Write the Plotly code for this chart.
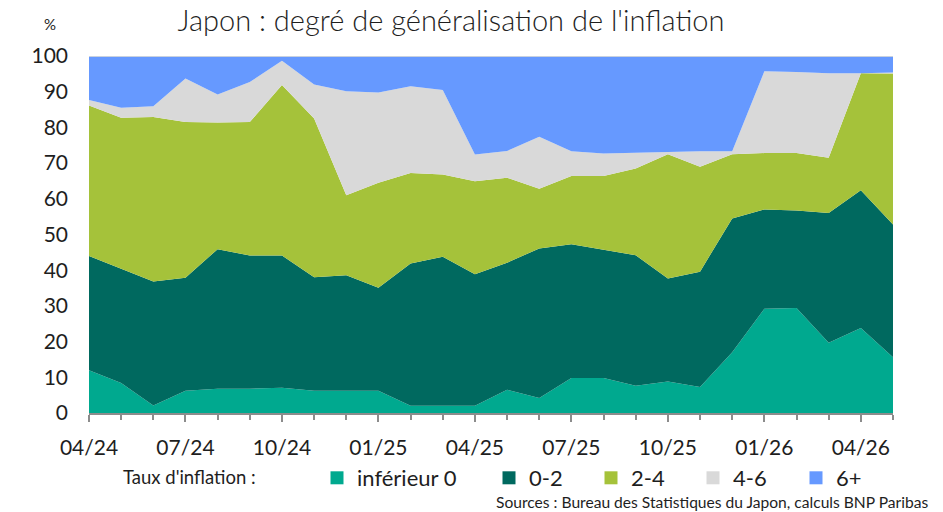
import plotly.graph_objects as go

months = ["04/24", "05/24", "06/24", "07/24", "08/24", "09/24", "10/24", "11/24", "12/24",
          "01/25", "02/25", "03/25", "04/25", "05/25", "06/25", "07/25", "08/25", "09/25",
          "10/25", "11/25", "12/25", "01/26", "02/26", "03/26", "04/26", "05/26"]

inf0 = [12.0, 8.4, 2.1, 6.2, 6.8, 6.8, 7.1, 6.2, 6.2, 6.2, 2.0, 2.0, 2.0, 6.5, 4.2, 9.8,
        9.8, 7.6, 8.8, 7.3, 17.0, 29.2, 29.4, 19.7, 23.8, 15.6]
r0_2 = [32.0, 32.1, 34.7, 31.7, 39.1, 37.3, 37.0, 31.8, 32.4, 28.9, 39.9, 41.8, 36.9, 35.6,
        41.9, 37.5, 36.0, 36.6, 28.9, 32.3, 37.5, 27.8, 27.3, 36.3, 38.6, 37.2]
r2_4 = [42.1, 42.2, 46.1, 43.6, 35.5, 37.4, 47.8, 44.5, 22.4, 29.4, 25.3, 23.0, 26.0, 23.8,
        16.7, 19.1, 20.6, 24.3, 34.8, 29.4, 18.0, 15.8, 16.1, 15.5, 32.8, 42.3]
r4_6 = [1.6, 2.8, 3.0, 12.2, 7.8, 11.2, 6.8, 9.5, 29.1, 25.3, 24.3, 23.7, 7.5, 7.5, 14.6,
        6.9, 6.3, 4.4, 0.8, 4.3, 0.8, 22.9, 22.7, 23.7, 0.0, 0.3]
r6p = [12.3, 14.5, 14.1, 6.3, 10.8, 7.3, 1.3, 8.0, 9.9, 10.2, 8.5, 9.5, 27.6, 26.6, 22.6,
       26.7, 27.3, 27.1, 26.7, 26.7, 26.7, 4.3, 4.5, 4.8, 4.8, 4.6]

series_names = ["inférieur 0", "0-2", "2-4", "4-6", "6+"]
series_values = [inf0, r0_2, r2_4, r4_6, r6p]
colors = ["#00A98F", "#00695F", "#A5C23A", "#D9D9D9", "#6699FF"]
legend_ids = ["legend", "legend2", "legend3", "legend4", "legend5"]
legend_left_px = [317, 489, 591, 693, 796]

tick_idx = list(range(0, len(months), 3))
tick_labels = [months[i] for i in tick_idx]

x = list(range(len(months)))
FONT = "Lato"
TXT = "#1E1E1E"
W, H = 943, 512

fig = go.Figure()
for i, (name, vals, col) in enumerate(zip(series_names, series_values, colors)):
    last = i == len(series_names) - 1
    fig.add_trace(go.Scatter(
        x=x, y=vals, name=name, stackgroup="one", mode="lines",
        line=dict(width=2 if last else 0, color="#C9D1DE" if last else col),
        fillcolor=col, showlegend=False, hoverinfo="x+y+name"))
for name, col, lid in zip(series_names, colors, legend_ids):
    fig.add_trace(go.Scatter(
        x=[None], y=[None], name=name, mode="markers", legend=lid,
        marker=dict(symbol="square", size=13, color=col), showlegend=True))

legend_style = dict(orientation="h", xref="container", yref="container",
                    xanchor="left", y=1 - 478 / H, yanchor="middle",
                    font=dict(size=22, family=FONT, color=TXT),
                    itemwidth=30, bgcolor="rgba(0,0,0,0)", borderwidth=0)
legends = {}
for lid, left in zip(legend_ids, legend_left_px):
    legends[lid] = dict(legend_style, x=left / W)

fig.update_layout(
    width=W, height=H,
    margin=dict(l=89, r=50, t=56, b=99, autoexpand=False),
    paper_bgcolor="white", plot_bgcolor="white",
    font=dict(family=FONT, color=TXT),
    title=dict(text="Japon : degré de généralisation de l'inflation",
               xref="container", yref="container",
               x=451 / W, xanchor="center", y=1 - 21 / H, yanchor="middle",
               font=dict(size=29, family=FONT, color=TXT, weight=300)),
    showlegend=True,
    xaxis=dict(range=[0, len(months) - 1], tickmode="array", tickvals=tick_idx,
               ticktext=tick_labels, showgrid=False, zeroline=False,
               showline=True, linecolor="#8C8C8C", linewidth=1.5,
               ticks="outside", ticklen=7, tickcolor="#8C8C8C", tickwidth=1.5,
               ticklabelstandoff=8,
               tickfont=dict(size=21, family=FONT, color=TXT)),
    yaxis=dict(range=[0, 100], dtick=10, showgrid=False, zeroline=False,
               showline=False, ticks="", ticklabelstandoff=20,
               tickfont=dict(size=21, family=FONT, color=TXT)),
    **legends,
)
fig.update_xaxes(minor=dict(dtick=1, tick0=0, ticks="outside", ticklen=5,
                            tickcolor="#8C8C8C", tickwidth=1.5, showgrid=False))

fig.add_annotation(text="%", xref="paper", yref="paper", x=-0.048, y=1.09,
                   xanchor="center", yanchor="middle", showarrow=False,
                   font=dict(size=15, family=FONT, color=TXT))
fig.add_annotation(text="Taux d'inflation :", xref="paper", yref="paper",
                   x=(121 - 89) / 804, y=-(477 - 413) / 357,
                   xanchor="left", yanchor="middle", showarrow=False,
                   font=dict(size=18.5, family=FONT, color=TXT))
fig.add_annotation(text="Sources : Bureau des Statistiques du Japon, calculs BNP Paribas",
                   xref="paper", yref="paper", x=(930 - 89) / 804, y=-(502 - 413) / 357,
                   xanchor="right", yanchor="middle", showarrow=False,
                   font=dict(size=15.6, family=FONT, color=TXT))

fig.write_html("out.html", config={"displayModeBar": False},
               post_script="document.body.style.margin='0';")
